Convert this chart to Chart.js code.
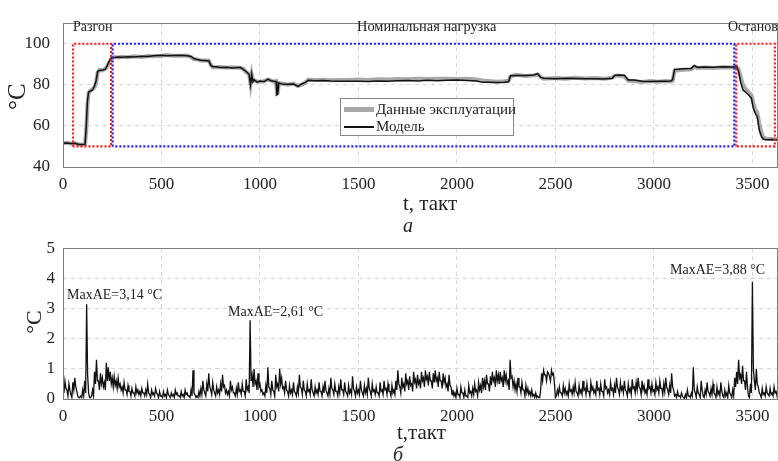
<!DOCTYPE html>
<html><head><meta charset="utf-8">
<script src="https://cdn.jsdelivr.net/npm/chart.js@4.4.1/dist/chart.umd.min.js"></script>
<style>
html,body{margin:0;padding:0;background:#fff;}
#wrap{position:relative;width:778px;height:461px;overflow:hidden;background:#fff;font-family:"Liberation Serif","Times New Roman",serif;color:#222;}
.t{position:absolute;white-space:nowrap;}
canvas{position:absolute;left:0;}
</style></head><body>
<div id="wrap">
<canvas id="c1" width="778" height="230" style="top:0"></canvas>
<canvas id="c2" width="778" height="231" style="top:230px"></canvas>

<div class="t" style="left:4px;top:84px;width:26px;height:26px;line-height:26px;font-size:25px;transform:rotate(-90deg);text-align:center;">°C</div>
<div class="t" style="left:73px;top:18px;font-size:14px;line-height:17px;">Разгон</div>
<div class="t" style="left:357px;top:18px;font-size:14.4px;line-height:17px;">Номинальная нагрузка</div>
<div class="t" style="left:728px;top:18px;font-size:14px;line-height:17px;">Останов</div>
<div class="t" style="left:403px;top:191px;font-size:21px;line-height:24px;">t, такт</div>
<div class="t" style="left:403px;top:213px;font-size:20px;line-height:24px;font-style:italic;">а</div>

<div class="t" style="left:340px;top:98px;width:172px;height:36px;border:1px solid #888;background:#fff;">
  <div style="position:absolute;left:3px;top:8px;width:30px;height:5px;background:#a8a8a8;"></div>
  <div class="t" style="left:35px;top:1px;font-size:15px;line-height:18px;">Данные эксплуатации</div>
  <div style="position:absolute;left:3px;top:27px;width:30px;height:1.5px;background:#111;"></div>
  <div class="t" style="left:35px;top:18px;font-size:15px;line-height:18px;">Модель</div>
</div>

<div class="t" style="left:22px;top:310px;width:24px;height:24px;line-height:24px;font-size:22px;transform:rotate(-90deg);text-align:center;">°C</div>
<div class="t" style="left:67px;top:286px;font-size:14px;line-height:17px;">MaxAE=3,14 °C</div>
<div class="t" style="left:228px;top:303px;font-size:14px;line-height:17px;">MaxAE=2,61 °C</div>
<div class="t" style="left:670px;top:261px;font-size:14px;line-height:17px;">MaxAE=3,88 °C</div>
<div class="t" style="left:397px;top:420px;font-size:21px;line-height:24px;">t,такт</div>
<div class="t" style="left:393px;top:442px;font-size:20px;line-height:24px;font-style:italic;">б</div>
</div>
<script>
// ---------- DATA ----------
const xTicks = [0,500,1000,1500,2000,2500,3000,3500];
const yTicksTop = [40,60,80,100];
const yTicksErr = [0,1,2,3,4,5];

const tTop = [0,20,40,60,80,100,112,118,124,130,140,150,160,168,176,185,200,215,225,235,245,260,280,300,330,360,400,430,460,500,530,560,600,630,650,665,680,700,740,752,760,800,830,860,900,915,930,945,952,958,964,970,985,1000,1020,1040,1055,1070,1082,1086,1090,1096,1110,1140,1170,1193,1210,1230,1245,1280,1320,1360,1400,1450,1500,1550,1600,1650,1700,1750,1800,1850,1900,1950,2000,2050,2100,2130,2160,2200,2240,2262,2272,2300,2350,2390,2410,2425,2440,2500,2550,2600,2650,2700,2750,2790,2800,2820,2850,2860,2870,2900,2940,2980,3020,3060,3085,3095,3105,3150,3190,3205,3220,3260,3300,3350,3400,3420,3430,3440,3452,3465,3480,3495,3505,3515,3525,3535,3545,3555,3570,3600,3630];

const modelTop = [51.6,51.7,51.4,51.5,51.0,50.9,51.1,60,72,76.5,77,77.5,79.5,82,86.5,87,87.2,87.5,89.5,91.5,93,93.3,93.6,93.4,93.7,93.6,93.9,93.8,94.1,94.4,94.2,94.3,94.4,94.1,93.8,92.8,92.3,92.0,91.6,89.2,88.9,88.4,88.6,88.2,88.5,87.5,86.5,85.0,80.0,85.2,81.5,82.5,81.3,81.8,81.5,82.8,82.0,81.7,81.6,75.2,75.5,81.0,80.4,80.3,80.4,79.2,80.3,81.2,82.2,82.0,82.1,81.9,81.8,81.7,81.8,81.6,81.9,81.8,82.0,82.1,81.9,82.2,82.0,82.2,82.3,82.1,81.9,81.2,81.3,81.1,81.3,81.5,84.4,84.6,84.5,84.8,85.4,83.6,83.2,83.0,83.2,83.1,82.9,83.0,82.8,83.2,84.6,84.8,84.7,83.5,82.4,82.3,81.7,81.6,81.8,81.7,81.9,82.5,87.5,87.8,88.0,89.4,88.6,88.7,88.5,88.8,88.7,88.9,86.5,81.5,77.5,76.5,75.2,73.5,68.5,66.0,64.5,58.0,55.0,53.5,53.3,53.4,53.2];

const dataTop = [51.5,51.8,51.3,51.6,51.1,50.8,50.9,58,70,76,77.2,77.8,79,81,86,87.3,87,87.8,89,91,92.8,93.5,93.3,93.7,93.4,93.9,93.6,94.0,93.9,94.2,94.5,94.1,94.2,94.3,93.5,92.5,92.5,91.8,91.8,89.5,88.6,88.7,88.3,88.5,88.2,87.8,86.2,85.3,80.5,84.8,81.8,82.2,81.6,81.5,81.8,82.5,82.2,81.5,81.8,75.8,76,80.8,80.6,80.1,80.6,79.4,80.1,81.0,82.4,82.3,82.5,82.2,82.4,82.3,82.6,82.4,82.7,82.6,82.8,82.7,82.9,82.8,83.0,82.9,82.8,82.9,82.6,82.1,81.9,81.5,81.7,82,84.2,84.9,84.3,84.6,85.1,83.8,83.0,83.3,83.0,83.4,83.1,83.3,83.0,83.5,84.3,84.5,84.0,83.0,82.0,81.8,81.4,81.9,81.5,81.9,81.6,82,86.8,87.3,87.6,88.8,88.2,88.4,88.2,88.5,88.4,88.8,87.5,84,80,78,76.5,75,71,68,66.5,61,57,54.5,53.8,53.6,53.5];

// phase regions (t range) and their temperature band
const razgonT = [51,244];
const nominalT = [252,3408];
const ostanovT = [3418,3614];
const bandY = [50,100];

// absolute error: peaks sampled at t = 0,10,20,... and troughs at t = 5,15,25,...
const errStep = 10;
const errAbs = [
0.45,0.6,0.3,0.5,0.15,0.55,0.7,0.25,0.05,0.1,
0.3,0.6,3.14,0.2,0.05,0.3,0.9,1.3,0.6,0.85,
0.7,0.55,1.2,1.05,0.9,0.7,0.75,0.6,0.7,0.5,
0.4,0.55,0.3,0.45,0.25,0.35,0.2,0.4,0.3,0.25,
0.35,0.2,0.3,0.5,0.15,0.3,0.2,0.35,0.15,0.25,
0.1,0.25,0.15,0.3,0.1,0.2,0.15,0.3,0.2,0.1,
0.25,0.15,0.3,0.2,0.1,0.3,0.95,0.15,0.1,0.25,
0.35,0.6,0.2,0.5,0.85,0.3,0.55,0.2,0.4,0.3,
0.5,0.8,0.45,0.3,0.25,0.6,0.4,0.2,0.35,0.55,
0.3,0.5,0.25,0.65,0.4,2.61,0.8,1.0,0.6,0.85,
0.5,0.3,0.2,0.45,1.05,0.35,0.6,0.25,0.8,0.5,
1.0,0.7,0.4,0.6,0.25,0.45,0.3,0.55,0.2,0.4,
0.8,0.35,0.6,0.25,0.5,0.3,0.65,0.2,0.4,0.3,
0.55,0.25,0.4,0.6,0.2,0.35,0.7,0.3,0.5,0.25,
0.4,0.65,0.3,0.55,0.2,0.45,0.3,0.75,0.25,0.4,
0.3,0.6,0.2,0.45,0.35,0.7,0.25,0.5,0.3,0.4,
0.2,0.55,0.3,0.6,0.35,0.5,0.25,0.45,0.3,0.6,
0.95,0.4,0.7,0.5,0.85,0.6,0.75,0.5,0.9,0.65,
0.8,0.6,0.9,0.7,0.95,0.75,0.9,0.6,0.85,0.95,
0.7,0.9,0.6,0.85,0.7,0.5,0.8,0.4,0.3,0.2,
0.35,0.15,0.4,0.2,0.3,0.1,0.45,0.25,0.35,0.5,
0.3,0.55,0.45,0.7,0.6,0.8,0.5,0.75,0.9,0.7,
0.95,0.8,0.9,0.7,0.95,0.8,0.6,1.3,0.75,0.6,
0.5,0.7,0.4,0.55,0.3,0.45,0.35,0.25,0.3,0.15,
0.2,0.1,0.05,0.85,0.95,0.8,0.9,0.75,0.95,0.85,
0.05,0.3,0.4,0.2,0.45,0.35,0.25,0.5,0.3,0.4,
0.55,0.2,0.45,0.3,0.6,0.35,0.5,0.25,0.55,0.4,
0.3,0.6,0.35,0.5,0.25,0.65,0.4,0.3,0.55,0.35,
0.45,0.7,0.3,0.55,0.4,0.6,0.25,0.5,0.35,0.65,
0.4,0.55,0.7,0.35,0.6,0.45,0.3,0.65,0.4,0.5,
0.3,0.55,0.4,0.6,0.35,0.5,0.7,0.3,0.45,0.85,
0.3,0.15,0.25,0.1,0.2,0.05,0.15,0.3,0.1,0.2,
1.05,0.2,0.4,0.15,0.6,0.1,0.3,0.55,0.2,0.35,
0.5,0.15,0.4,0.25,0.55,0.1,0.3,0.2,0.45,0.15,
0.3,0.7,0.9,1.3,0.8,1.1,0.6,0.9,0.1,0.5,
3.88,0.6,1.0,0.4,0.15,0.35,0.2,0.4,0.15,0.35,
0.2,0.4,0.25,0.3];
const errMid = [
0.2,0.35,0.1,0.3,0.05,0.3,0.4,0.1,0.05,0.05,
0.1,0.2,0.8,0.05,0.1,0.1,0.5,0.6,0.3,0.5,
0.4,0.3,0.6,0.6,0.5,0.4,0.45,0.35,0.4,0.3,
0.2,0.3,0.15,0.25,0.1,0.2,0.1,0.2,0.15,0.1,
0.2,0.1,0.15,0.2,0.05,0.15,0.1,0.2,0.05,0.1,
0.05,0.1,0.05,0.15,0.05,0.1,0.05,0.15,0.1,0.05,
0.1,0.05,0.15,0.1,0.05,0.1,0.2,0.05,0.05,0.1,
0.15,0.3,0.1,0.25,0.4,0.15,0.3,0.1,0.2,0.15,
0.25,0.4,0.2,0.15,0.1,0.3,0.2,0.1,0.15,0.25,
0.15,0.25,0.1,0.3,0.2,0.6,0.4,0.5,0.3,0.4,
0.25,0.15,0.1,0.2,0.4,0.15,0.3,0.1,0.4,0.25,
0.5,0.35,0.2,0.3,0.1,0.2,0.15,0.25,0.1,0.2,
0.4,0.15,0.3,0.1,0.25,0.15,0.3,0.1,0.2,0.15,
0.25,0.1,0.2,0.3,0.1,0.15,0.35,0.15,0.25,0.1,
0.2,0.3,0.15,0.25,0.1,0.2,0.15,0.35,0.1,0.2,
0.15,0.3,0.1,0.2,0.15,0.35,0.1,0.25,0.15,0.2,
0.1,0.25,0.15,0.3,0.15,0.25,0.1,0.2,0.15,0.3,
0.5,0.2,0.4,0.25,0.5,0.3,0.45,0.25,0.55,0.35,
0.5,0.35,0.6,0.4,0.65,0.45,0.6,0.35,0.55,0.6,
0.4,0.6,0.35,0.55,0.4,0.25,0.45,0.15,0.1,0.05,
0.15,0.05,0.2,0.05,0.1,0.05,0.2,0.1,0.15,0.25,
0.1,0.3,0.2,0.4,0.3,0.5,0.25,0.45,0.6,0.4,
0.6,0.5,0.6,0.4,0.6,0.5,0.3,0.7,0.4,0.3,
0.25,0.4,0.2,0.3,0.1,0.2,0.15,0.1,0.1,0.05,
0.05,0.05,0.3,0.6,0.8,0.6,0.85,0.6,0.8,0.5,
0.1,0.15,0.2,0.1,0.2,0.15,0.1,0.25,0.15,0.2,
0.25,0.1,0.2,0.15,0.3,0.15,0.25,0.1,0.3,0.2,
0.15,0.3,0.15,0.25,0.1,0.35,0.2,0.15,0.3,0.15,
0.2,0.4,0.15,0.3,0.2,0.3,0.1,0.25,0.15,0.35,
0.2,0.3,0.4,0.15,0.3,0.2,0.15,0.35,0.2,0.25,
0.15,0.3,0.2,0.35,0.15,0.25,0.4,0.15,0.2,0.4,
0.1,0.05,0.1,0.05,0.1,0.02,0.05,0.1,0.05,0.1,
0.3,0.05,0.2,0.05,0.3,0.05,0.15,0.25,0.1,0.15,
0.2,0.05,0.15,0.1,0.25,0.05,0.1,0.05,0.2,0.05,
0.1,0.4,0.5,0.7,0.5,0.6,0.3,0.4,0.05,0.2,
1.0,0.3,0.5,0.2,0.05,0.15,0.1,0.2,0.1,0.15,
0.1,0.2,0.1];

// ---------- BUILD ----------
const FONT = '"Liberation Serif","Times New Roman",serif';
function pts(xs, ys){ return xs.map((x,i)=>({x:x,y:ys[i]})); }
function boxPts(tr, yr){ return [{x:tr[0],y:yr[0]},{x:tr[0],y:yr[1]},{x:tr[1],y:yr[1]},{x:tr[1],y:yr[0]},{x:tr[0],y:yr[0]}]; }
const errPts = [];
errAbs.forEach((v,i)=>{
  errPts.push({x:i*errStep,y:v});
  if(i<errMid.length) errPts.push({x:i*errStep+errStep/2,y:errMid[i]});
});

const frame = {
  id:'frame',
  afterDraw(chart){
    const a = chart.chartArea, c = chart.ctx;
    c.save(); c.strokeStyle='#7f7f7f'; c.lineWidth=1;
    c.strokeRect(Math.round(a.left)+0.5, Math.round(a.top)+0.5, Math.round(a.right-a.left)-1, Math.round(a.bottom-a.top));
    c.restore();
  }
};

function scales(yMin,yMax,yT,xH,yPad){
  return {
    x:{type:'linear',min:0,max:3630,
      afterBuildTicks:s=>{s.ticks=xTicks.map(v=>({value:v}));},
      afterFit:s=>{s.height=xH;},
      ticks:{font:{family:FONT,size:17},color:'#222',padding:7,maxRotation:0,autoSkip:false,callback:v=>String(v)},
      grid:{color:'#d6d6d6',lineWidth:1,drawTicks:false},
      border:{display:false,dash:[4,4]}},
    y:{type:'linear',min:yMin,max:yMax,
      afterBuildTicks:s=>{s.ticks=yT.map(v=>({value:v}));},
      afterFit:s=>{s.width=63;},
      ticks:{font:{family:FONT,size:17},color:'#222',padding:yPad,callback:v=>String(v)},
      grid:{color:'#d6d6d6',lineWidth:1,drawTicks:false},
      border:{display:false,dash:[4,4]}}
  };
}

const common = {responsive:false,animation:false,devicePixelRatio:1,
  plugins:{legend:{display:false},tooltip:{enabled:false}},
  elements:{point:{radius:0},line:{tension:0}}};

new Chart(document.getElementById('c1'),{
  type:'line',
  data:{datasets:[
    {label:'Данные эксплуатации',data:pts(tTop,dataTop),borderColor:'#a8a8a8',borderWidth:4,pointRadius:0,order:3},
    {label:'Модель',data:pts(tTop,modelTop),borderColor:'#111',borderWidth:1.5,pointRadius:0,order:2},
    {label:'Разгон',data:boxPts(razgonT,bandY),borderColor:'#ff1a1a',borderWidth:2.2,borderDash:[2,2],pointRadius:0,order:1},
    {label:'Номинальная нагрузка',data:boxPts(nominalT,bandY),borderColor:'#1a1aff',borderWidth:2.2,borderDash:[2,2],pointRadius:0,order:1},
    {label:'Останов',data:boxPts(ostanovT,bandY),borderColor:'#ff1a1a',borderWidth:2.2,borderDash:[2,2],pointRadius:0,order:1}
  ]},
  options:Object.assign({},common,{layout:{padding:{top:10,right:0,left:0,bottom:0}},scales:scales(40,110,yTicksTop,63,13)}),
  plugins:[frame]
});

new Chart(document.getElementById('c2'),{
  type:'line',
  data:{datasets:[
    {label:'Ошибка',data:errPts,borderColor:'#111',borderWidth:1.3,pointRadius:0}
  ]},
  options:Object.assign({},common,{layout:{padding:{top:12,right:0,left:0,bottom:0}},scales:scales(0,5,yTicksErr,62,8)}),
  plugins:[frame]
});
</script>
</body></html>
